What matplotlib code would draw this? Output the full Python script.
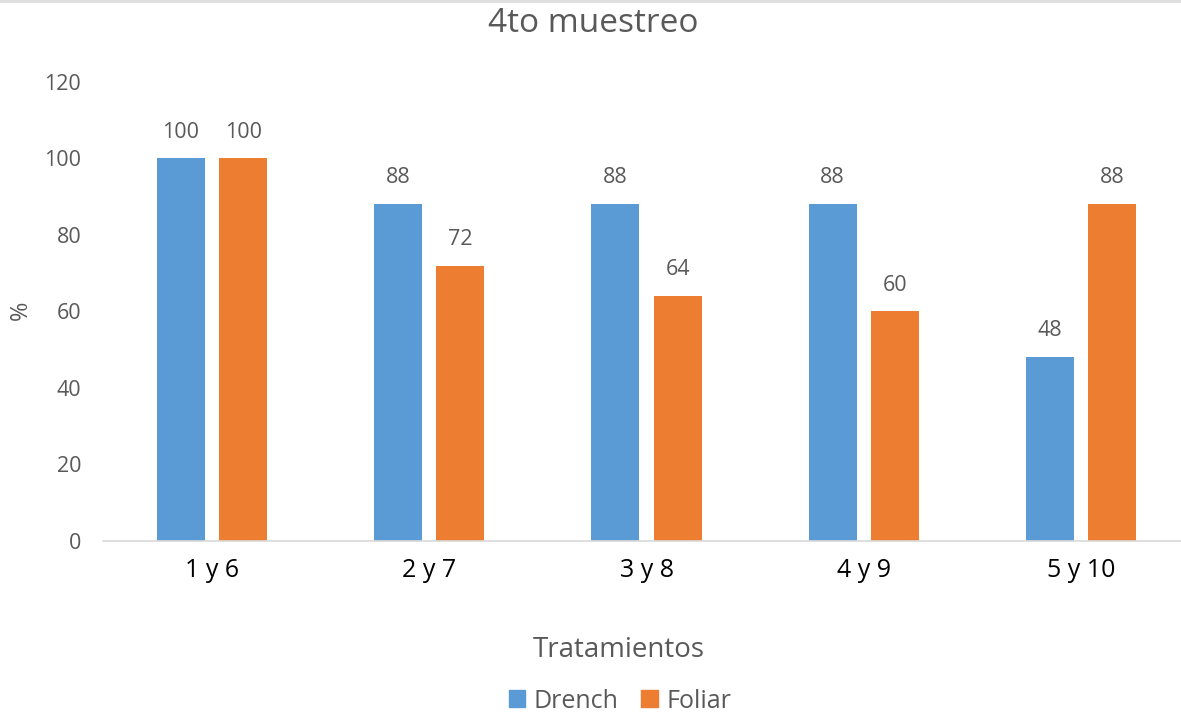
import matplotlib

matplotlib.use("Agg")
import matplotlib.pyplot as plt
import numpy as np
from matplotlib.lines import Line2D
from matplotlib.patches import Patch

categories = ["1 y 6", "2 y 7", "3 y 8", "4 y 9", "5 y 10"]
drench = [100, 88, 88, 88, 48]
foliar = [100, 72, 64, 60, 88]
series_names = ["Drench", "Foliar"]
y_ticks = [0, 20, 40, 60, 80, 100, 120]

BLUE = "#5B9BD5"
ORANGE = "#ED7D31"
GRAY = "#595959"

plt.rcParams["font.family"] = ["Open Sans", "DejaVu Sans"]

W, H = 1181, 715
fig = plt.figure(figsize=(W / 100, H / 100), dpi=100)
ax = fig.add_axes([0.0876, 0.2434, 0.9197, 0.6420])

x = np.arange(len(categories))
width = 0.221
offset = 0.143
bars_d = ax.bar(x - offset, drench, width, color=BLUE)
bars_f = ax.bar(x + offset, foliar, width, color=ORANGE)

for bars in (bars_d, bars_f):
    for b in bars:
        ax.annotate(f"{b.get_height():g}", (b.get_x() + b.get_width() / 2, b.get_height()),
                    xytext=(0, 19), textcoords="offset points", ha="center", va="center",
                    fontsize=15.5, color=GRAY)

ax.set_xlim(-0.5, len(categories) - 0.5)
ax.set_ylim(0, 120)
ax.set_yticks(y_ticks)
ax.set_xticks(x)
ax.set_xticklabels(categories, fontsize=18, color="black")
ax.tick_params(axis="y", labelsize=15.5, labelcolor=GRAY, length=0, pad=16)
ax.tick_params(axis="x", length=0, pad=12)

for side in ("top", "right", "left"):
    ax.spines[side].set_visible(False)
ax.spines["bottom"].set_color("#D9D9D9")
ax.spines["bottom"].set_linewidth(1.2)

fig.text(21 / W, 1 - 310 / H, "%", fontsize=17, color=GRAY, rotation=90,
         ha="center", va="center")
fig.text(619 / W, 1 - 650 / H, "Tratamientos", fontsize=20, color=GRAY,
         ha="center", va="center")
fig.text(593 / W, 1 - 24 / H, "4to muestreo", fontsize=24, color=GRAY,
         ha="center", va="center")

handles = [Patch(color=BLUE), Patch(color=ORANGE)]
fig.legend(handles, series_names, loc="center", bbox_to_anchor=(620 / W, 1 - 701 / H), ncol=2,
           frameon=False, fontsize=18, handlelength=0.65, handleheight=0.65,
           handletextpad=0.35, columnspacing=0.9, labelcolor=GRAY,
           borderpad=0, borderaxespad=0)

fig.add_artist(Line2D([0, 1], [0.998, 0.998], transform=fig.transFigure,
                      color="#E0E0E0", linewidth=3))

fig.savefig("out.png", dpi=100)
